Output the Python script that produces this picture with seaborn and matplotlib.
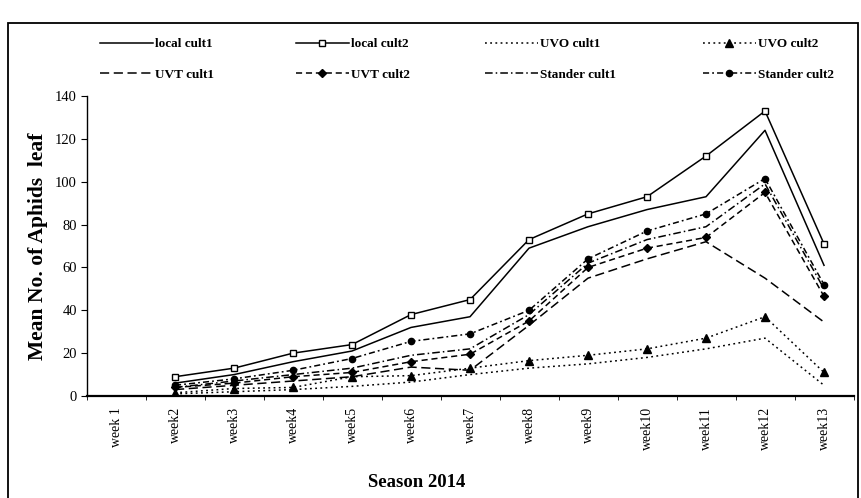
import numpy as np
import pandas as pd
import matplotlib
matplotlib.use('Agg')
import matplotlib.pyplot as plt
import matplotlib.patches as mpatches
import seaborn as sns

# data (week 1 has no readings)
weeks = ['week 1', 'week2', 'week3', 'week4', 'week5', 'week6', 'week7',
         'week8', 'week9', 'week10', 'week11', 'week12', 'week13']
local_cult1 = [np.nan, 6, 10, 16, 21, 32, 37, 69, 79, 87, 93, 124, 61]
local_cult2 = [np.nan, 9, 13, 20, 24, 38, 45, 73, 85, 93, 112, 133, 71]
uvo_cult1 = [np.nan, 1, 2, 3, 4.5, 6.5, 10, 13, 15, 18, 22, 27, 5]
uvo_cult2 = [np.nan, 1.5, 3.5, 4, 9, 9.5, 13, 16.5, 19, 22, 27, 37, 11]
uvt_cult1 = [np.nan, 3, 5, 7, 9, 13.5, 12, 33, 55, 64, 72, 55, 34.5]
uvt_cult2 = [np.nan, 4, 6, 9, 11, 16, 19.5, 35, 60, 69, 74, 95, 46.5]
stander_cult1 = [np.nan, 4, 7, 10, 13, 19, 22, 38, 62, 73, 79, 99, 50]
stander_cult2 = [np.nan, 5, 8, 12, 17.5, 25.5, 29, 40, 64, 77, 85, 101.5, 52]

series = {
    'local cult1': local_cult1,
    'local cult2': local_cult2,
    'UVO cult1': uvo_cult1,
    'UVO cult2': uvo_cult2,
    'UVT cult1': uvt_cult1,
    'UVT cult2': uvt_cult2,
    'Stander cult1': stander_cult1,
    'Stander cult2': stander_cult2,
}

# line looks: linestyle, marker, marker face colour, marker size
looks = {
    'local cult1': ('-', '', 'black', 0),
    'local cult2': ('-', 's', 'white', 5),
    'UVO cult1': ((0, (1.2, 2.2)), '', 'black', 0),
    'UVO cult2': ((0, (1.2, 2.2)), '^', 'black', 5.5),
    'UVT cult1': ((0, (6, 3)), '', 'black', 0),
    'UVT cult2': ((0, (4, 2.5)), 'D', 'black', 4),
    'Stander cult1': ((0, (5, 2, 1, 2)), '', 'black', 0),
    'Stander cult2': ((0, (4, 2, 1.2, 2)), 'o', 'black', 4.5),
}

serif = 'Liberation Serif'
plt.rcParams['font.family'] = serif

fig = plt.figure(figsize=(8.61, 4.98), dpi=100)
ax = fig.add_axes([0.1005, 0.2048, 0.8908, 0.6024])

x = np.arange(len(weeks))
handles = {}
for name, vals in series.items():
    ls, mk, mfc, ms = looks[name]
    sns.lineplot(x=x, y=vals, ax=ax, color='black', linewidth=1.1,
                 linestyle=ls, marker=mk if mk else None,
                 markersize=ms, markerfacecolor=mfc,
                 markeredgecolor='black', markeredgewidth=1.0)
    handles[name] = ax.lines[-1]

ax.set_xlim(-0.5, len(weeks) - 0.5)
ax.set_ylim(0, 140)
ax.set_yticks(np.arange(0, 141, 20))
ax.set_xticks(x)
ax.set_xticklabels(weeks, rotation=90, fontsize=10, family=serif)
ax.set_xticks(np.arange(-0.5, len(weeks), 1), minor=True)
ax.tick_params(axis='x', which='major', length=0, pad=8)
ax.tick_params(axis='x', which='minor', length=3, direction='out')
ax.tick_params(axis='y', length=4, direction='out', labelsize=10.5, pad=3)
for lab in ax.get_yticklabels():
    lab.set_family(serif)

for side in ['top', 'right']:
    ax.spines[side].set_visible(False)
ax.spines['left'].set_linewidth(1.0)
ax.spines['bottom'].set_linewidth(1.6)

ax.set_ylabel('Mean No. of Aphids  leaf', fontsize=15.5, fontweight='bold', family=serif)
ax.yaxis.set_label_coords(-0.05, 0.5)
ax.set_xlabel('Season 2014', fontsize=13.5, fontweight='bold', family=serif)
ax.xaxis.set_label_coords(0.43, -0.26)

# legend: four columns of two entries each
columns = [('local cult1', 'UVT cult1'), ('local cult2', 'UVT cult2'),
           ('UVO cult1', 'Stander cult1'), ('UVO cult2', 'Stander cult2')]
col_x = [100, 296, 485, 703]
for names, cx in zip(columns, col_x):
    fig.legend([handles[n] for n in names], list(names), loc='upper left',
               bbox_to_anchor=(cx / 861, 1 - 38 / 498), frameon=False,
               borderpad=0, borderaxespad=0, handlelength=4.0,
               handletextpad=0.15, labelspacing=1.4,
               prop={'family': serif, 'weight': 'bold', 'size': 9.5})

# outer frame around the chart
frame = mpatches.Rectangle((8 / 861, -0.02), 850 / 861, 1 - 23 / 498 + 0.02,
                           transform=fig.transFigure, fill=False,
                           edgecolor='black', linewidth=1.3)
fig.patches.append(frame)

fig.savefig('out.png', dpi=100, facecolor='white')
